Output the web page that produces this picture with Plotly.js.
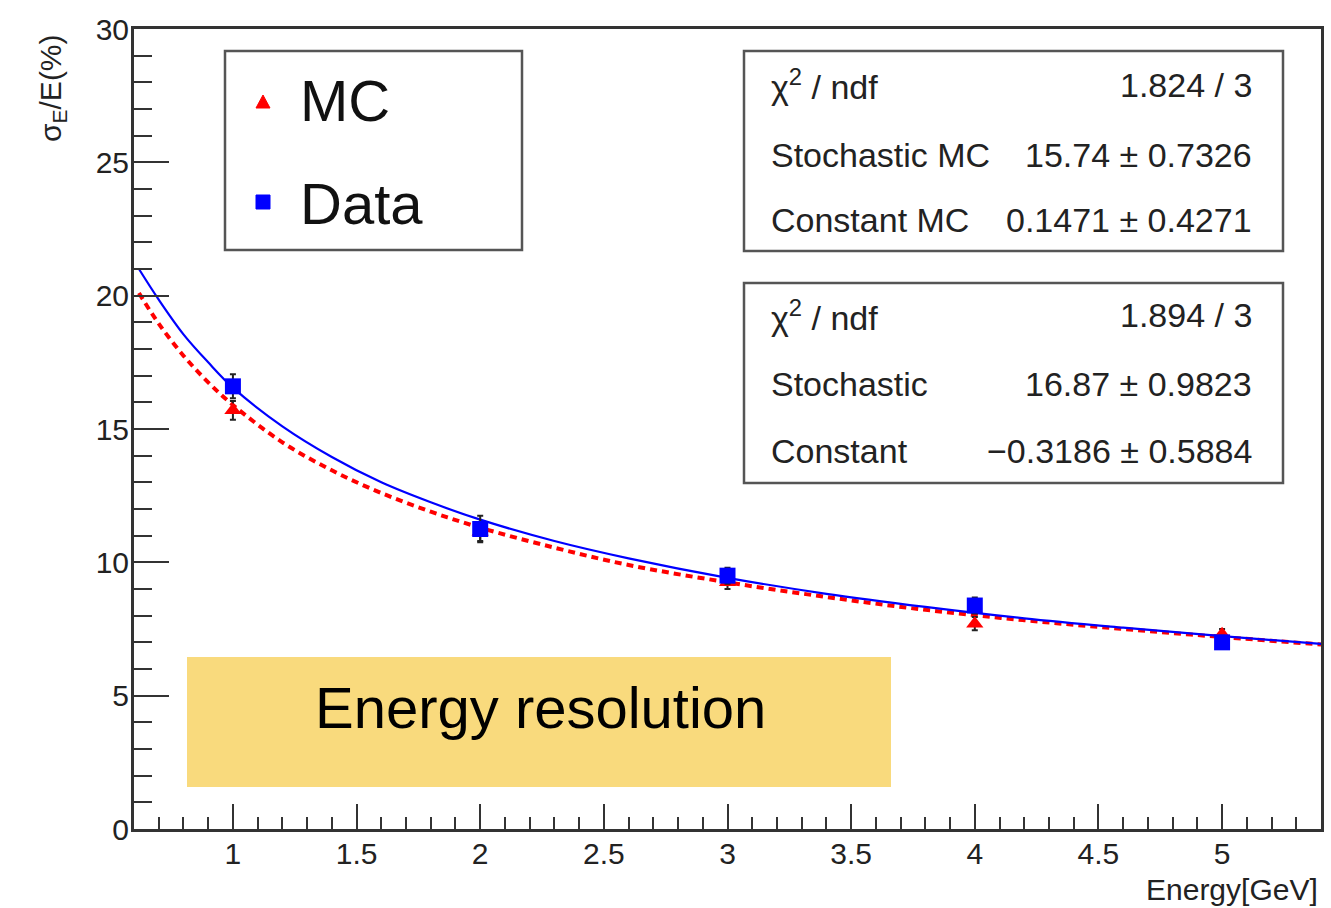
<!DOCTYPE html>
<html>
<head>
<meta charset="utf-8">
<script src="https://cdn.plot.ly/plotly-3.0.1.min.js"></script>
<style>
  html, body { margin: 0; padding: 0; background: #ffffff; }
  #chart { width: 1331px; height: 908px; }
</style>
</head>
<body>
<div id="chart"></div>
<script>
// ---------------- data ----------------
const energy = [1, 2, 3, 4, 5];
const mcRes = [15.7, 11.15, 9.25, 7.7, 7.3];
const mcErr = [0.35, 0.35, 0.25, 0.25, 0.2];
const dataRes = [16.6, 11.25, 9.5, 8.38, 7.0];
const dataErr = [0.45, 0.5, 0.3, 0.3, 0.25];

// fit curves
const fitEnergy = [0.62, 0.7, 0.8, 0.9, 1.0, 1.2, 1.4, 1.6, 1.8, 2.0, 2.3, 2.6, 3.0, 3.4, 3.8, 4.2, 4.6, 5.0, 5.4];
const dataFit = [21.0, 19.85, 18.55, 17.5, 16.55, 15.1, 13.95, 13.0, 12.25, 11.6, 10.8, 10.15, 9.42, 8.82, 8.33, 7.9, 7.55, 7.23, 6.94];
const mcFit = [20.1, 18.95, 17.75, 16.75, 15.9, 14.5, 13.45, 12.6, 11.9, 11.3, 10.55, 9.9, 9.25, 8.7, 8.22, 7.83, 7.5, 7.2, 6.92];

// tick labels
const xTickVals = [1, 1.5, 2, 2.5, 3, 3.5, 4, 4.5, 5];
const xTickText = ["1", "1.5", "2", "2.5", "3", "3.5", "4", "4.5", "5"];
const yTickVals = [0, 5, 10, 15, 20, 25, 30];
const yTickText = ["0", "5", "10", "15", "20", "25", "30"];

// legend / stats text
const legendLabels = ["MC", "Data"];
const statsMCLabels = ["χ<sup>2</sup> / ndf", "Stochastic MC", "Constant MC"];
const statsMCValues = ["1.824 / 3", "15.74 ± 0.7326", "0.1471 ± 0.4271"];
const statsDataLabels = ["χ<sup>2</sup> / ndf", "Stochastic", "Constant"];
const statsDataValues = ["1.894 / 3", "16.87 ± 0.9823", "−0.3186 ± 0.5884"];
const bannerText = "Energy resolution";

// ---------------- layout helpers (pixel -> paper) ----------------
const W = 1331, H = 908;
const L = 134, R = 10, T = 29, B = 79;
const PW = W - L - R, PH = H - T - B;
const px = p => (p - L) / PW;
const py = p => (H - B - p) / PH;

const FONT = "Liberation Sans, Arial, Helvetica, sans-serif";
const RED = "#ff0000", BLUE = "#0000ff";

const traces = [
  {
    x: fitEnergy, y: mcFit, mode: "lines", type: "scatter",
    line: { color: RED, width: 4, dash: "7px,5px", shape: "spline" },
    hoverinfo: "skip", showlegend: false
  },
  {
    x: fitEnergy, y: dataFit, mode: "lines", type: "scatter",
    line: { color: BLUE, width: 2.2, shape: "spline" },
    hoverinfo: "skip", showlegend: false
  },
  {
    x: energy, y: mcRes, mode: "markers", type: "scatter", name: legendLabels[0],
    marker: { symbol: "triangle-up", size: 15, color: RED },
    error_y: { type: "data", array: mcErr, visible: true, color: "#222", thickness: 2, width: 3 },
    showlegend: false
  },
  {
    x: energy, y: dataRes, mode: "markers", type: "scatter", name: legendLabels[1],
    marker: { symbol: "square", size: 16, color: BLUE },
    error_y: { type: "data", array: dataErr, visible: true, color: "#222", thickness: 2, width: 3 },
    showlegend: false
  }
];

const shapes = [];
const annotations = [];

// legend box
shapes.push({ type: "rect", xref: "paper", yref: "paper", x0: px(225), x1: px(522), y0: py(51), y1: py(250),
  line: { color: "#555", width: 2.5 }, fillcolor: "#ffffff", layer: "above" });
// legend symbols
shapes.push({ type: "path", xref: "paper", yref: "paper",
  path: `M ${px(256)} ${py(108)} L ${px(270)} ${py(108)} L ${px(263)} ${py(95)} Z`,
  line: { color: RED, width: 1 }, fillcolor: RED, layer: "above" });
shapes.push({ type: "rect", xref: "paper", yref: "paper", x0: px(256), x1: px(270), y0: py(195), y1: py(209),
  line: { color: BLUE, width: 1 }, fillcolor: BLUE, layer: "above" });
annotations.push({ xref: "paper", yref: "paper", x: px(298), y: py(101), xanchor: "left", yanchor: "middle",
  text: legendLabels[0], showarrow: false, font: { family: FONT, size: 58, color: "#111" } });
annotations.push({ xref: "paper", yref: "paper", x: px(298), y: py(203), xanchor: "left", yanchor: "middle",
  text: legendLabels[1], showarrow: false, font: { family: FONT, size: 58, color: "#111" } });

// stats boxes
function statsBox(top, bottom, rows, labels, values) {
  shapes.push({ type: "rect", xref: "paper", yref: "paper", x0: px(744), x1: px(1283), y0: py(top), y1: py(bottom),
    line: { color: "#555", width: 2.5 }, fillcolor: "#ffffff", layer: "above" });
  for (let i = 0; i < labels.length; i++) {
    annotations.push({ xref: "paper", yref: "paper", x: px(769), y: py(rows[i]), xanchor: "left", yanchor: "middle",
      text: labels[i], showarrow: false, font: { family: FONT, size: 34, color: "#222" } });
    annotations.push({ xref: "paper", yref: "paper", x: px(1254), y: py(rows[i]), xanchor: "right", yanchor: "middle",
      text: values[i], showarrow: false, font: { family: FONT, size: 34, color: "#222" } });
  }
}
statsBox(51, 251, [85, 155, 220], statsMCLabels, statsMCValues);
statsBox(283, 483, [315, 384, 451], statsDataLabels, statsDataValues);

// yellow banner
shapes.push({ type: "rect", xref: "paper", yref: "paper", x0: px(187), x1: px(891), y0: py(657), y1: py(787),
  line: { width: 0 }, fillcolor: "#f9da7d", layer: "above" });
annotations.push({ xref: "paper", yref: "paper", x: px(540), y: py(707), xanchor: "center", yanchor: "middle",
  text: bannerText, showarrow: false, font: { family: FONT, size: 58, color: "#000" } });

// axis titles (ROOT style, at the axis ends)
annotations.push({ xref: "paper", yref: "paper", x: px(1320), y: py(889), xanchor: "right", yanchor: "middle",
  text: "Energy[GeV]", showarrow: false, font: { family: FONT, size: 30, color: "#222" } });
annotations.push({ xref: "paper", yref: "paper", x: px(52), y: py(32), xanchor: "center", yanchor: "top",
  textangle: -90, text: "σ<sub>E</sub>/E(%)", showarrow: false, font: { family: FONT, size: 30, color: "#222" } });

const layout = {
  width: W, height: H,
  margin: { l: L, r: R, t: T, b: B, pad: 0 },
  paper_bgcolor: "#ffffff", plot_bgcolor: "#ffffff",
  showlegend: false,
  font: { family: FONT, color: "#222" },
  xaxis: {
    range: [0.6, 5.4], tickmode: "array", tickvals: xTickVals, ticktext: xTickText,
    ticks: "inside", ticklen: 25, tickwidth: 2, tickcolor: "#333",
    minor: { dtick: 0.1, tick0: 0, ticks: "inside", ticklen: 12, tickwidth: 2, tickcolor: "#333", showgrid: false },
    showgrid: false, zeroline: false, showline: true, linecolor: "#333", linewidth: 3, mirror: true,
    tickfont: { family: FONT, size: 30, color: "#222" }, ticklabelstandoff: -4
  },
  yaxis: {
    range: [0, 30], tickmode: "array", tickvals: yTickVals, ticktext: yTickText,
    ticks: "inside", ticklen: 35, tickwidth: 2, tickcolor: "#333",
    minor: { dtick: 1, tick0: 0, ticks: "inside", ticklen: 18, tickwidth: 2, tickcolor: "#333", showgrid: false },
    showgrid: false, zeroline: false, showline: true, linecolor: "#333", linewidth: 3, mirror: true,
    tickfont: { family: FONT, size: 30, color: "#222" }, ticklabelstandoff: -4
  },
  shapes: shapes,
  annotations: annotations
};

Plotly.newPlot("chart", traces, layout, { staticPlot: true, displayModeBar: false });
</script>
</body>
</html>
